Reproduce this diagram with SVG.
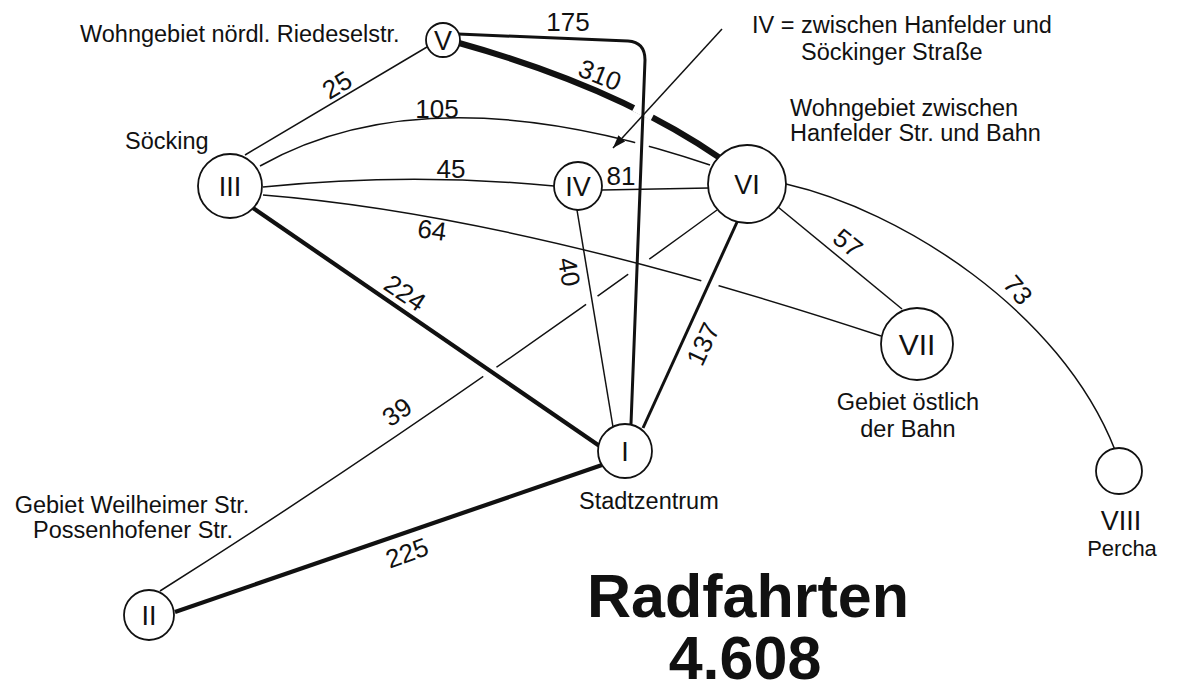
<svg xmlns="http://www.w3.org/2000/svg" width="1185" height="691" viewBox="0 0 1185 691">
<style>
text{font-family:"Liberation Sans",Arial,sans-serif;fill:#111}
.c{fill:none;stroke:#111;stroke-linecap:butt}
.t{stroke-width:1.5}
.m{stroke-width:3}
.k{stroke-width:4.2}
.x{stroke-width:6}
.gap{fill:none;stroke:#fff}
.node circle{fill:#fff;stroke:#111;stroke-width:1.8}
.num{font-size:27px;text-anchor:middle}
.lbl{font-size:23.5px}
.mid{text-anchor:middle}
.w{font-size:26px;text-anchor:middle}
.title{font-size:61px;font-weight:bold;text-anchor:middle}
</style>
<defs>
<marker id="ah" markerUnits="userSpaceOnUse" markerWidth="14" markerHeight="10" refX="13" refY="5" orient="auto">
<path d="M0,0.5 L13,5 L0,9.5 Z" fill="#111"/>
</marker>
</defs>
<rect width="1185" height="691" fill="#fff"/>
<g id="connectors">
<path class="c t" d="M160,591 Q430,420 717,210"/>
<path class="gap" stroke-width="6" d="M483.4,376.6 L496.6,367.4"/>
<path class="gap" stroke-width="6" d="M586.3,304.6 L597.7,296.4"/>
<path class="gap" stroke-width="6" d="M628.5,274.6 L649.5,259.4"/>
<path class="c t" d="M263,195 Q515,215 881,336"/>
<path class="c t" d="M577,210 L613,427"/>
<path class="c k" d="M253,208 L601,447"/>
<path class="gap" stroke-width="6" d="M701.4,280.5 L718.6,285.5"/>
<path class="c m" d="M738,220 L643,428"/>
<path class="c t" d="M260,166 Q430,70 710,165"/>
<path class="c x" d="M459,43 Q617,87 720,158"/>
<path class="gap" stroke-width="10" d="M634.5,106.5 L653,116"/>
<path class="gap" stroke-width="5" d="M635.2,142.7 L648.8,146.3"/>
<path class="c m" d="M458,34 L628,41 Q645,42 645,60 L631,424"/>
<path class="c t" d="M722,29 L613,148" marker-end="url(#ah)"/>
<path class="c t" d="M427,47 L245,155"/>
<path class="c t" d="M263,187 Q410,172 554,186"/>
<path class="c t" d="M602,190 L709,188"/>
<path class="c t" d="M778,207 L902,309"/>
<path class="c t" d="M786,184 C900,210 1060,310 1115,450"/>
<path class="c k" d="M175,612 L602,465"/>
<text class="w" x="568" y="31">175</text>
<text class="w" transform="translate(600,75) rotate(22)" y="9">310</text>
<text class="w" transform="translate(337,85) rotate(-31)" y="9">25</text>
<text class="w" x="437" y="118">105</text>
<text class="w" x="451" y="178">45</text>
<text class="w" x="621" y="185">81</text>
<text class="w" transform="translate(432,230) rotate(8)" y="9">64</text>
<text class="w" transform="translate(405,293) rotate(34)" y="9">224</text>
<text class="w" transform="translate(569,272) rotate(80)" y="9">40</text>
<text class="w" transform="translate(703,344) rotate(-65)" y="9">137</text>
<text class="w" transform="translate(848,243) rotate(39)" y="9">57</text>
<text class="w" transform="translate(1018,290) rotate(50)" y="9">73</text>
<text class="w" transform="translate(397,412) rotate(-35)" y="9">39</text>
<text class="w" transform="translate(407,553) rotate(-20)" y="9">225</text>
</g>
<g id="node-V" class="node">
<circle cx="443" cy="40" r="17"/>
<text class="num" x="443" y="50">V</text>
<text class="lbl" x="80" y="42">Wohngebiet nördl. Riedeselstr.</text>
</g>
<g id="node-III" class="node">
<circle cx="230" cy="186" r="32"/>
<text class="num" x="230" y="196">III</text>
<text class="lbl" x="125" y="149">Söcking</text>
</g>
<g id="node-IV" class="node">
<circle cx="578" cy="186" r="24"/>
<text class="num" x="578" y="196">IV</text>
</g>
<g id="note-IV">
<text class="lbl" x="752" y="33">IV = zwischen Hanfelder und</text>
<text class="lbl" x="801" y="60">Söckinger Straße</text>
</g>
<g id="node-VI" class="node">
<circle cx="747" cy="184" r="39"/>
<text class="num" x="747" y="194">VI</text>
<text class="lbl" x="790" y="116">Wohngebiet zwischen</text>
<text class="lbl" x="790" y="141">Hanfelder Str. und Bahn</text>
</g>
<g id="node-VII" class="node">
<circle cx="917" cy="344" r="36"/>
<text class="num" x="917" y="355" style="font-size:30px">VII</text>
<text class="lbl mid" x="908" y="410">Gebiet östlich</text>
<text class="lbl mid" x="908" y="437">der Bahn</text>
</g>
<g id="node-VIII" class="node">
<circle cx="1119" cy="471" r="23"/>
<text class="num" x="1121" y="530">VIII</text>
<text class="lbl mid" x="1122" y="556" style="font-size:22px">Percha</text>
</g>
<g id="node-I" class="node">
<circle cx="625" cy="451" r="27"/>
<text class="num" x="625" y="461">I</text>
<text class="lbl" x="579" y="509">Stadtzentrum</text>
</g>
<g id="node-II" class="node">
<circle cx="149" cy="615" r="25"/>
<text class="num" x="149" y="625">II</text>
<text class="lbl mid" x="132" y="513">Gebiet Weilheimer Str.</text>
<text class="lbl mid" x="133" y="538">Possenhofener Str.</text>
</g>
<g id="title">
<text class="title" x="748" y="617">Radfahrten</text>
<text class="title" x="745" y="679">4.608</text>
</g>
</svg>
